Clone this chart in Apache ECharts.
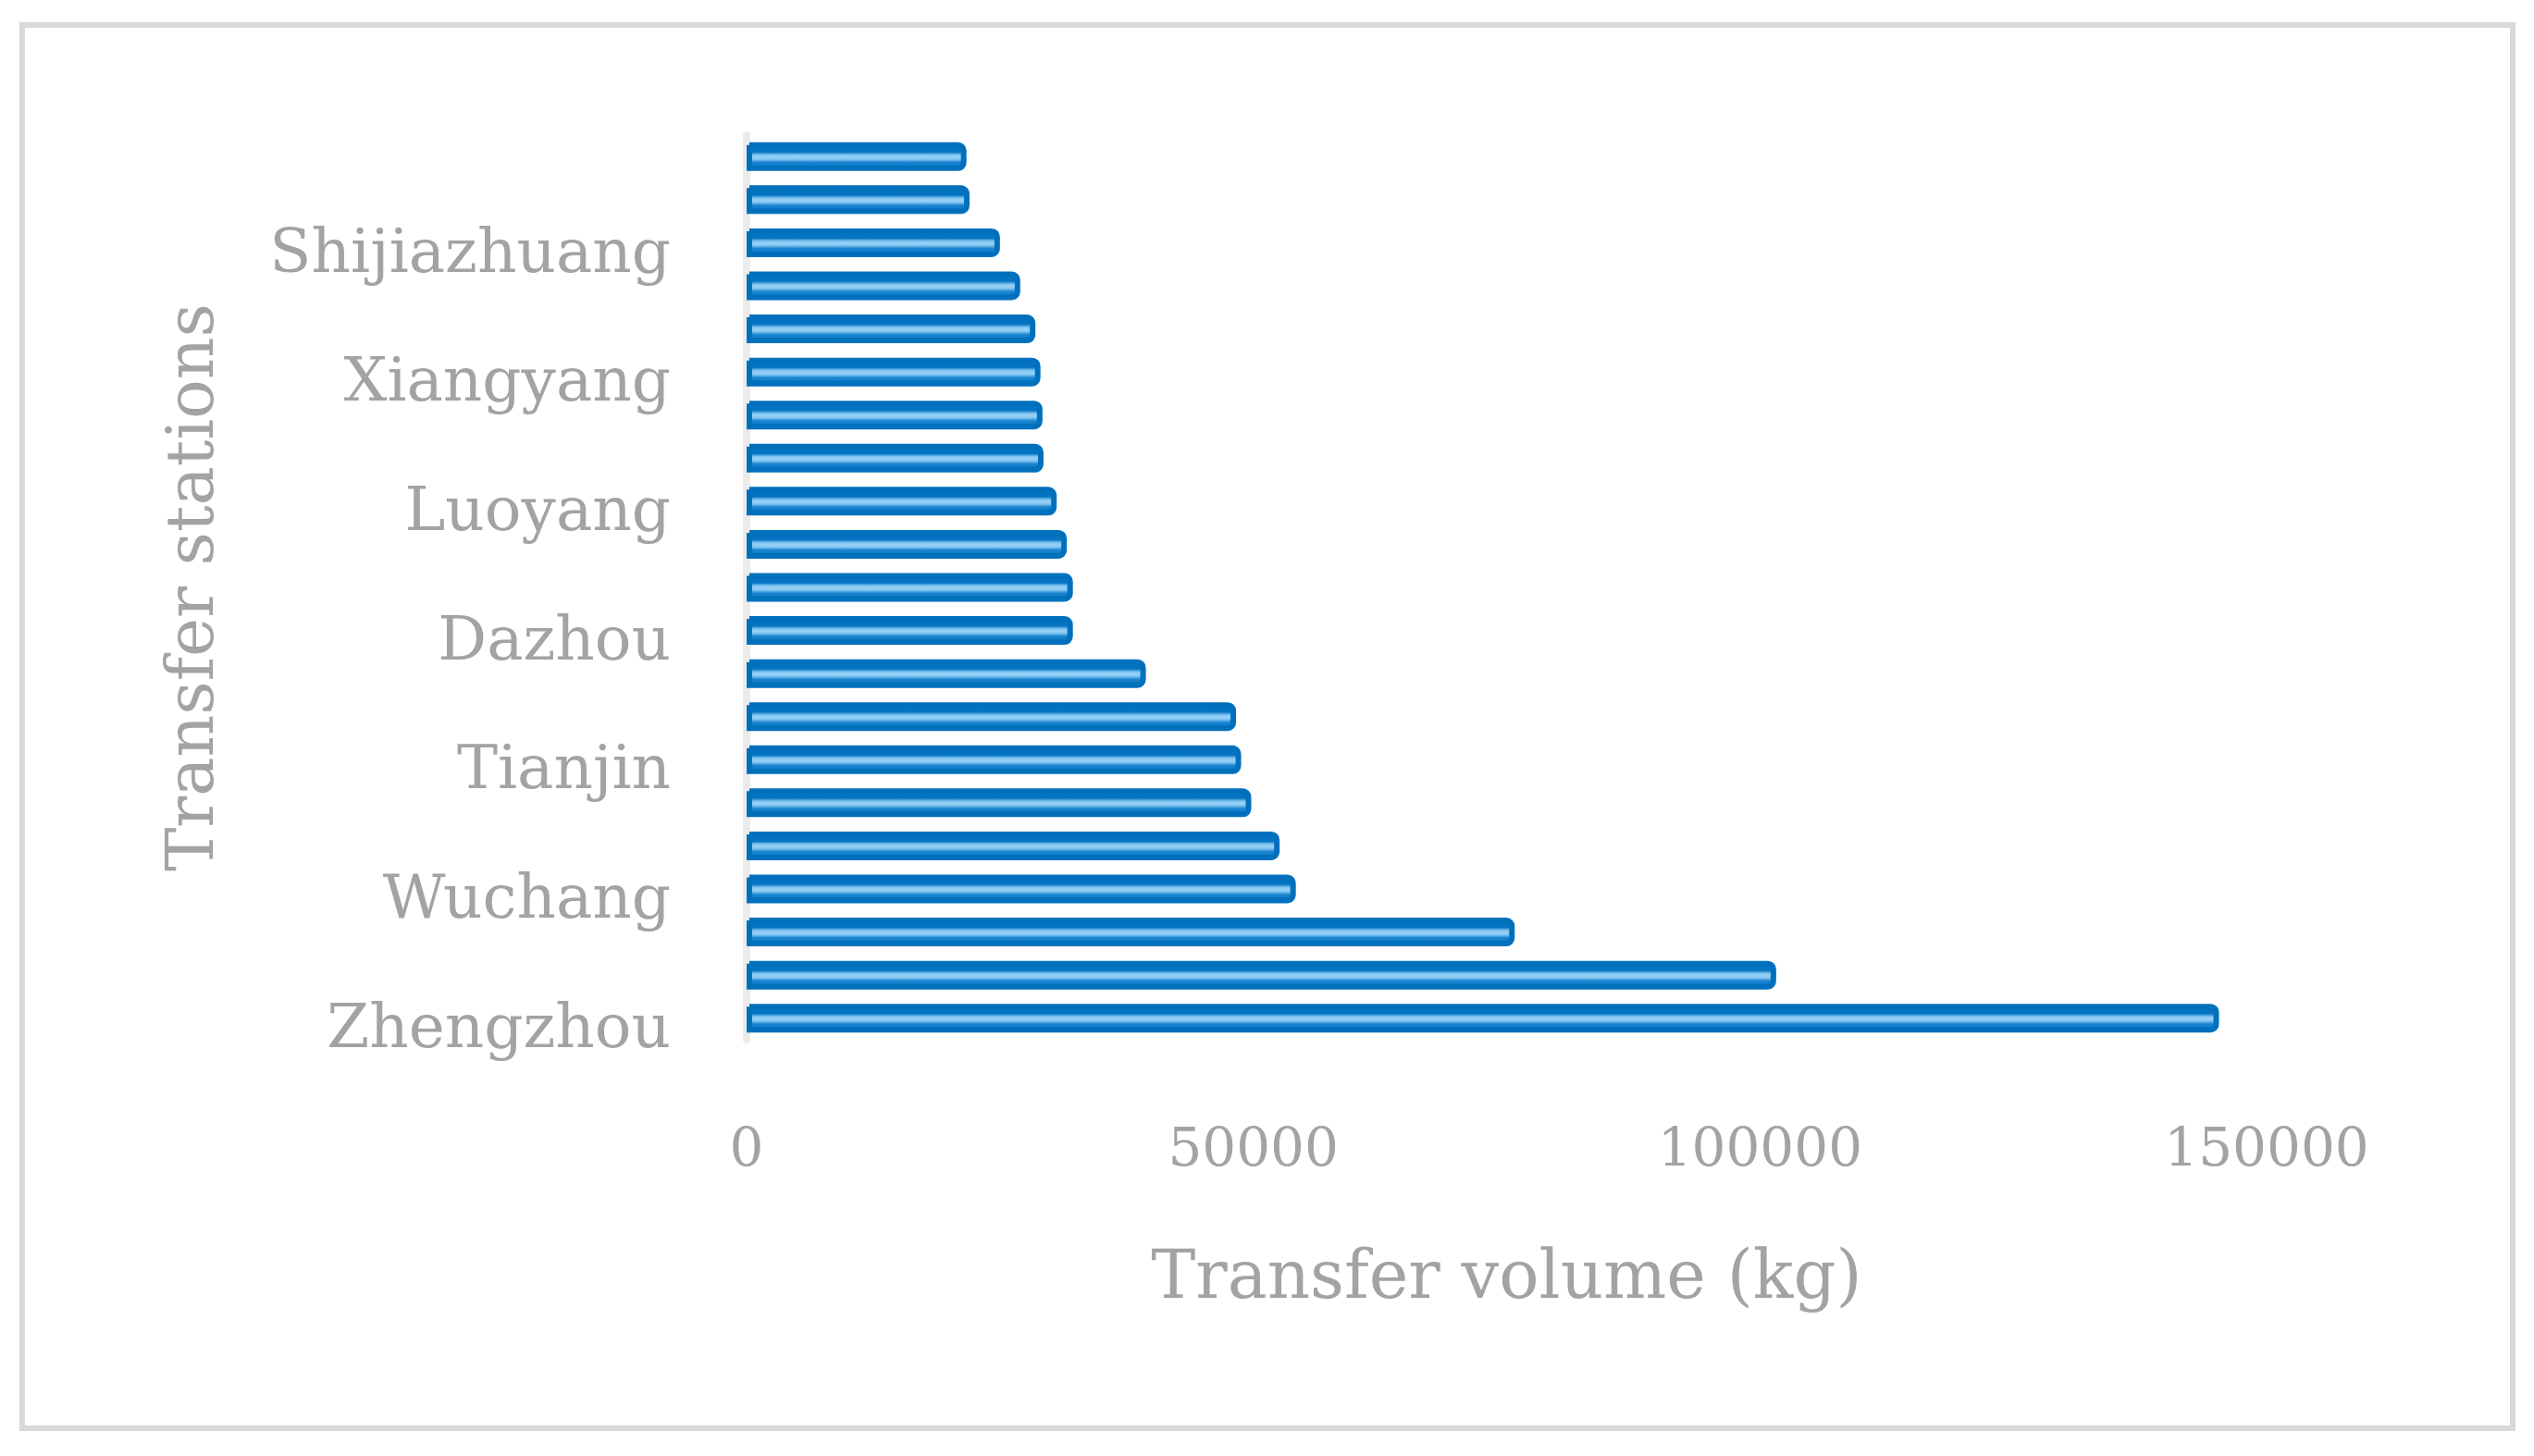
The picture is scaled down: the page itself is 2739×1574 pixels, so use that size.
<!DOCTYPE html>
<html>
<head>
<meta charset="utf-8">
<title>Transfer volume</title>
<script src="https://cdn.jsdelivr.net/npm/echarts@6/dist/echarts.min.js"></script>
<style>
  html, body { margin: 0; padding: 0; background: #fff; }
  #chart { width: 2739px; height: 1574px; }
</style>
</head>
<body>
<div id="chart"></div>
<script>
// stations from bottom to top (only every third name is printed on the axis)
const stations = ['Zhengzhou', 'Beijingxi', 'Guangzhou', 'Wuchang', "Xi'an", 'Chengdu',
  'Tianjin', 'Shanghai', 'Hankou', 'Dazhou', 'Changsha', 'Chongqing',
  'Luoyang', 'Hefei', 'Nanjing', 'Xiangyang', 'Taiyuan', 'Jinan',
  'Shijiazhuang', 'Xuzhou', 'Baoji']
// transfer volume in kg
const volumes = [145300, 101600, 75800, 54200, 52600, 49800,
  48800, 48300, 39400, 32200, 32200, 31600,
  30600, 29300, 29200, 29000, 28500, 27000,
  25000, 22000, 21700]
const xTicks = [0, 50000, 100000, 150000]

const grey = '#a3a3a3'
const font = 'DejaVu Serif'

const myChart = echarts.init(document.getElementById('chart'))
myChart.setOption({
  animation: false,
  backgroundColor: '#fff',
  graphic: [
    {
      type: 'rect',
      shape: { x: 24, y: 27, width: 2692, height: 1517 },
      style: { fill: 'none', stroke: '#d9d9d9', lineWidth: 6 }
    }
  ],
  grid: { left: 807, right: 289, top: 146, bottom: 450 },
  xAxis: {
    type: 'value',
    min: xTicks[0],
    max: xTicks[xTicks.length - 1],
    interval: xTicks[1] - xTicks[0],
    name: 'Transfer volume (kg)',
    nameLocation: 'middle',
    nameGap: 224,
    nameTextStyle: { color: grey, fontFamily: font, fontSize: 72 },
    axisLine: { show: false },
    axisTick: { show: false },
    splitLine: { show: false },
    axisLabel: {
      color: grey,
      fontFamily: font,
      fontSize: 58,
      margin: 92,
      formatter: (v) => String(v)
    }
  },
  yAxis: {
    type: 'category',
    data: stations,
    name: 'Transfer stations',
    nameLocation: 'middle',
    nameGap: 560,
    nameTextStyle: { color: grey, fontFamily: font, fontSize: 71 },
    axisLine: { show: true, lineStyle: { color: '#ebebeb', width: 8 } },
    axisTick: { show: false },
    axisLabel: {
      interval: 2,
      margin: 82,
      // the printed names sit a little below their bars
      formatter: (name) => '{s|' + name + '}',
      rich: {
        s: {
          color: grey,
          fontFamily: font,
          fontSize: 66,
          padding: [28, 0, 0, 0]
        }
      }
    }
  },
  series: [
    {
      name: 'Transfer volume',
      type: 'bar',
      data: volumes,
      barWidth: 31,
      itemStyle: {
        // dark rim with a thin light stripe a bit below the middle, like the 3D bars
        color: new echarts.graphic.LinearGradient(0, 0, 0, 1, [
          { offset: 0, color: '#0070bf' },
          { offset: 0.34, color: '#0574c2' },
          { offset: 0.44, color: '#7cc3f0' },
          { offset: 0.52, color: '#9ad2f6' },
          { offset: 0.6, color: '#7cc3f0' },
          { offset: 0.7, color: '#1a84cf' },
          { offset: 1, color: '#0070bf' }
        ]),
        borderColor: '#0070bd',
        borderWidth: 6,
        borderRadius: [0, 6, 6, 0]
      }
    }
  ]
})
window.addEventListener('resize', () => {
  myChart.resize()
})
</script>
</body>
</html>
